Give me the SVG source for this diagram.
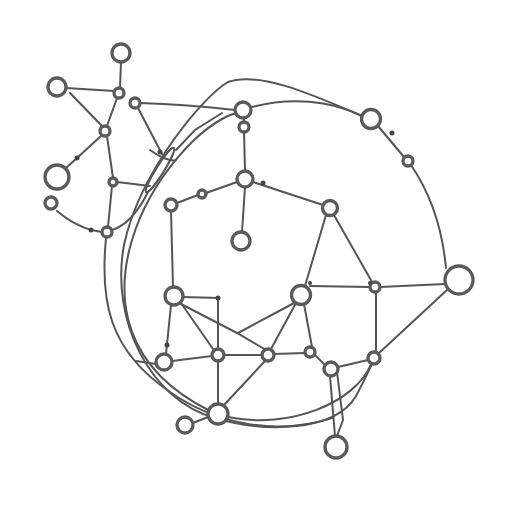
<svg xmlns="http://www.w3.org/2000/svg" width="512" height="512" viewBox="0 0 512 512">
<style>
.e{fill:none;stroke:#555;stroke-width:2;stroke-linecap:round}
.n{fill:#fff;stroke:#5a5a5a;stroke-width:3.3}
.d{fill:#444}
</style>
<rect width="512" height="512" fill="#fff"/>
<g id="connectors">
<path class="e" d="M121,62 L120,88"/>
<path class="e" d="M66,88 L114,91"/>
<path class="e" d="M70,93 L103,127"/>
<path class="e" d="M117,98 L107,126"/>
<path class="e" d="M101,136 L66,168"/>
<path class="e" d="M107,136 L113,178"/>
<path class="e" d="M140,103 C170,104 200,106 235,110"/>
<path class="e" d="M138,108 L162,154"/>
<path class="e" d="M117,182 L150,186"/>
<path class="e" d="M112,186 L108,227"/>
<path class="e" d="M57,211 C70,222 85,230 102,232"/>
<path class="e" d="M112,230 C125,226 138,212 148,192"/>
<path class="e" d="M362,116 C320,98 260,70 228,82 C205,95 140,170 124,245 C110,320 150,400 215,418 C265,433 335,432 356,396 C363,383 368,372 372,364"/>
<path class="e" d="M236,113 C200,124 150,180 132,240 C114,300 124,368 210,411"/>
<path class="e" d="M106,238 C100,300 108,350 170,392 C210,420 270,438 332,418"/>
<path class="e" d="M252,107 C290,97 330,100 362,116"/>
<path class="e" d="M371,364 C356,402 290,430 228,417"/>
<path class="e" d="M378,126 L404,157"/>
<path class="e" d="M411,165 C428,190 442,225 446,268"/>
<path class="e" d="M150,150 C158,156 170,162 176,160"/>
<path class="e" d="M244,118 L244,122"/>
<path class="e" d="M244,132 L245,171"/>
<path class="e" d="M245,187 L242,232"/>
<path class="e" d="M237,182 L206,193"/>
<path class="e" d="M198,195 L177,203"/>
<path class="e" d="M253,182 L323,205"/>
<path class="e" d="M171,211 L173,287"/>
<path class="e" d="M326,215 L305,286"/>
<path class="e" d="M334,215 L372,282"/>
<path class="e" d="M310,286 L370,287"/>
<path class="e" d="M380,287 L445,284"/>
<path class="e" d="M376,292 L376,352"/>
<path class="e" d="M447,290 L379,353"/>
<path class="e" d="M183,297 L218,298 L218,349"/>
<path class="e" d="M181,303 L213,349"/>
<path class="e" d="M171,305 L166,354"/>
<path class="e" d="M172,361 L212,356"/>
<path class="e" d="M224,355 L262,355"/>
<path class="e" d="M274,354 L305,353"/>
<path class="e" d="M296,303 L271,349"/>
<path class="e" d="M304,304 L312,347"/>
<path class="e" d="M296,302 L238,333"/>
<path class="e" d="M181,304 L237,333 L266,350"/>
<path class="e" d="M218,361 L218,404"/>
<path class="e" d="M265,361 L224,405"/>
<path class="e" d="M315,355 L325,365"/>
<path class="e" d="M338,367 L368,360"/>
<path class="e" d="M330,376 L335,436"/>
<path class="e" d="M337,372 L343,420 L337,436"/>
<path class="e" d="M193,423 L208,417"/>
<path class="e" d="M156,364 L136,361"/>
</g>
<g id="sheath">
<ellipse class="e" cx="160" cy="170" rx="4" ry="26" transform="rotate(32 160 170)"/>
<path class="e" d="M176,150 L195,130 L222,113"/>
</g>
<g id="nodes">
<g id="nA"><circle class="n" cx="121" cy="53" r="9"/></g>
<g id="nB"><circle class="n" cx="57" cy="87" r="9"/></g>
<g id="nC"><circle class="n" cx="119" cy="93" r="5"/></g>
<g id="nD"><circle class="n" cx="135" cy="103" r="5"/></g>
<g id="nE"><circle class="n" cx="105" cy="131" r="5"/></g>
<g id="nF"><circle class="n" cx="57" cy="177" r="12"/></g>
<g id="nF2"><circle class="n" cx="51" cy="203" r="6"/></g>
<g id="nG"><circle class="n" cx="113" cy="182" r="4"/></g>
<g id="nH"><circle class="n" cx="107" cy="232" r="5"/></g>
<g id="nI"><circle class="n" cx="243" cy="110" r="8"/></g>
<g id="nJ"><circle class="n" cx="244" cy="127" r="5"/></g>
<g id="nK"><circle class="n" cx="371" cy="119" r="9.5"/></g>
<g id="nL"><circle class="n" cx="408" cy="161" r="5"/></g>
<g id="nM"><circle class="n" cx="245" cy="179" r="8"/></g>
<g id="nN"><circle class="n" cx="171" cy="205" r="6"/></g>
<g id="nO"><circle class="n" cx="202" cy="194" r="4"/></g>
<g id="nP"><circle class="n" cx="330" cy="208" r="7.5"/></g>
<g id="nQ"><circle class="n" cx="241" cy="241" r="9"/></g>
<g id="nR"><circle class="n" cx="174" cy="296" r="9"/></g>
<g id="nS"><circle class="n" cx="301" cy="295" r="9.5"/></g>
<g id="nT"><circle class="n" cx="459" cy="280" r="14"/></g>
<g id="nU"><circle class="n" cx="375" cy="287" r="5"/></g>
<g id="nV"><circle class="n" cx="218" cy="355" r="6"/></g>
<g id="nW"><circle class="n" cx="164" cy="362" r="8"/></g>
<g id="nX"><circle class="n" cx="268" cy="355" r="6"/></g>
<g id="nY"><circle class="n" cx="310" cy="352" r="5"/></g>
<g id="nZ"><circle class="n" cx="331" cy="369" r="7"/></g>
<g id="nAA"><circle class="n" cx="374" cy="358" r="6"/></g>
<g id="nAB"><circle class="n" cx="218" cy="414" r="10"/></g>
<g id="nAC"><circle class="n" cx="185" cy="425" r="8"/></g>
<g id="nAD"><circle class="n" cx="336" cy="447" r="11"/></g>
</g>
<g id="dots">
<circle class="d" cx="77" cy="158" r="2.5"/>
<circle class="d" cx="91" cy="230" r="2.5"/>
<circle class="d" cx="263" cy="183" r="2.5"/>
<circle class="d" cx="392" cy="133" r="2.5"/>
<circle class="d" cx="218" cy="298" r="2.5"/>
<circle class="d" cx="167" cy="345" r="2.5"/>
<circle class="d" cx="160" cy="152" r="2.5"/>
<circle class="d" cx="310" cy="283" r="2"/>
<circle class="d" cx="370" cy="283" r="2"/>
</g>
</svg>
